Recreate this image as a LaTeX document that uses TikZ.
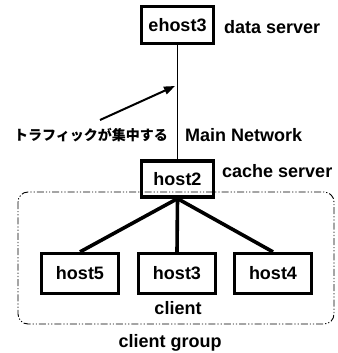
\documentclass[tikz,border=0pt]{standalone}
\usepackage{fontspec}
\setmainfont{Liberation Sans}
\newfontfamily\jpfont{Noto Sans CJK JP}
\usetikzlibrary{arrows.meta}
\begin{document}
\begin{tikzpicture}[x=1pt,y=-1pt,
  lbl/.style={font=\bfseries\fontsize{18}{18}\selectfont, inner sep=0pt},
  hostbox/.style={draw, line width=3.2pt, inner sep=0pt, lbl},
  serverbox/.style={hostbox, minimum width=72pt, minimum height=36pt},
  clientbox/.style={hostbox, minimum width=77pt, minimum height=40pt},
  link/.style={line width=3.6pt},
  backbone/.style={line width=1.2pt},
  grouprect/.style={line width=0.9pt, rounded corners=10pt,
    dash pattern=on 7pt off 2pt on 1.2pt off 2pt on 1.2pt off 2pt}]
\useasboundingbox (0,0) rectangle (337,353);

% client group boundary
\draw[grouprect] (18,192) rectangle (334,324);

% servers
\node[serverbox, minimum height=37pt] (ehost) at (177.5,25) {ehost3};
\node[serverbox] (host2) at (177.5,179) {host2};

% clients
\node[clientbox] (host5) at (80,273.5) {host5};
\node[clientbox] (host3) at (177,273.5) {host3};
\node[clientbox] (host4) at (273,273.5) {host4};

% network links
\draw[backbone] (ehost.south) -- (host2.north);
\draw[link] (host2.south) -- (host5.north);
\draw[link] (host2.south) -- (host3.north);
\draw[link] (host2.south) -- (host4.north);

% labels
\node[lbl, anchor=west] (ds) at (224,27) {data server};
\node[lbl, anchor=west] (cs) at (222,171) {cache server};
\node[lbl, anchor=west] (mn) at (185,135) {Main Network};
\node[lbl] (cl) at (178,308) {client};
\node[lbl] (cg) at (170,343) {client group};
\node[anchor=east, inner sep=0pt, font=\jpfont\bfseries\fontsize{14}{14}\selectfont] (traffic) at (168,135) {トラフィックが集中する};

% traffic arrow
\coordinate (tail) at (100,120);
\coordinate (tip) at (175,86);
\draw[line width=2pt, -{Triangle[length=11pt,width=8pt]}] (tail) -- (tip);
\end{tikzpicture}
\end{document}
